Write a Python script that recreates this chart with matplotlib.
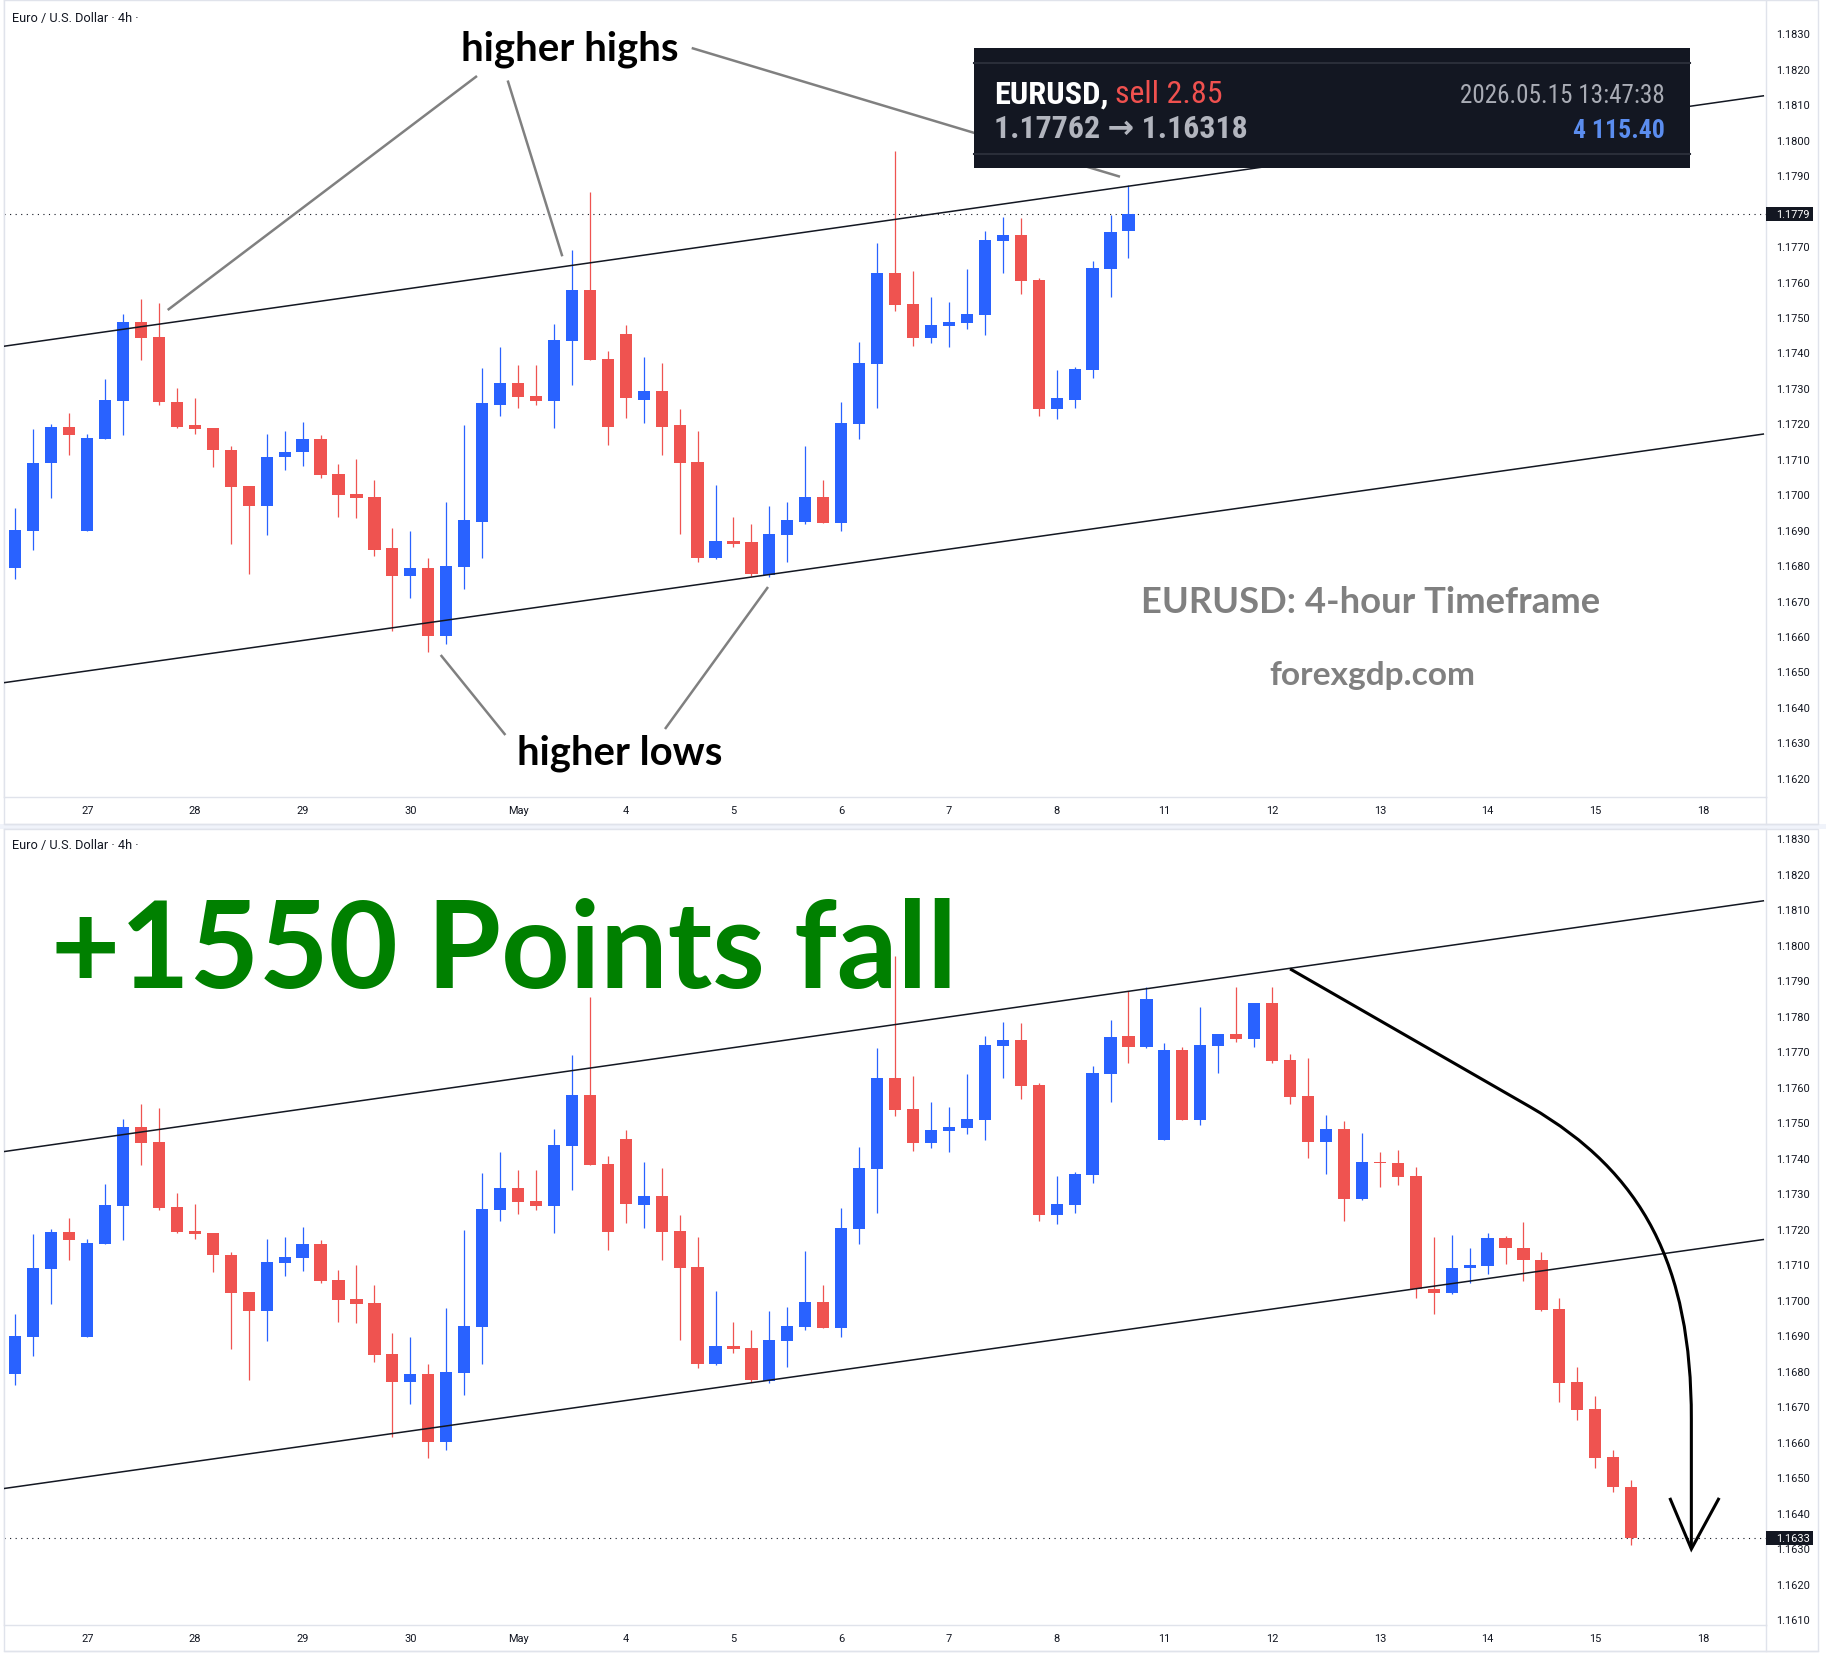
import numpy as np
import matplotlib
matplotlib.use("Agg")
import matplotlib.pyplot as plt
from matplotlib import font_manager, transforms
from matplotlib.patches import Rectangle, PathPatch
from matplotlib.path import Path
from matplotlib.lines import Line2D
from matplotlib.ticker import MultipleLocator, FormatStrFormatter

# ---------------- data (EURUSD 4h candles) ----------------
opens = [1.16791, 1.16895, 1.17087, 1.17191, 1.16895, 1.17157, 1.17264, 1.17487, 1.17444, 1.17261,
         1.17194, 1.17188, 1.17126, 1.17022, 1.16968, 1.17104, 1.17118, 1.17157, 1.17056, 1.17002,
         1.16991, 1.16847, 1.16768, 1.16791, 1.16600, 1.16794, 1.16923, 1.17253, 1.17315, 1.17278,
         1.17264, 1.17433, 1.17577, 1.17382, 1.17453, 1.17267, 1.17292, 1.17194, 1.17092, 1.16819,
         1.16869, 1.16864, 1.16771, 1.16884, 1.16923, 1.16993, 1.16920, 1.17199, 1.17368, 1.17625,
         1.17537, 1.17442, 1.17475, 1.17484, 1.17506, 1.17715, 1.17732, 1.17605, 1.17239, 1.17267,
         1.17351, 1.17636, 1.17743, 1.17713, 1.17451, 1.17703, 1.17507, 1.17716, 1.17748, 1.17735,
         1.17836, 1.17675, 1.17574, 1.17445, 1.17481, 1.17285, 1.17387, 1.17385, 1.17348, 1.17030,
         1.17020, 1.17089, 1.17096, 1.17174, 1.17147, 1.17113, 1.16973, 1.16768, 1.16691, 1.16556,
         1.16474]
highs = [1.16960, 1.17185, 1.17199, 1.17230, 1.17170, 1.17326, 1.17509, 1.17551, 1.17540, 1.17301,
         1.17271, 1.17188, 1.17135, 1.17022, 1.17171, 1.17177, 1.17205, 1.17168, 1.17084, 1.17098,
         1.17041, 1.16906, 1.16895, 1.16819, 1.16977, 1.17196, 1.17357, 1.17416, 1.17365, 1.17365,
         1.17481, 1.17689, 1.17853, 1.17405, 1.17478, 1.17388, 1.17371, 1.17239, 1.17177, 1.17025,
         1.16937, 1.16915, 1.16968, 1.16979, 1.17137, 1.17041, 1.17259, 1.17430, 1.17709, 1.17968,
         1.17630, 1.17557, 1.17543, 1.17636, 1.17743, 1.17782, 1.17780, 1.17610, 1.17349, 1.17360,
         1.17658, 1.17788, 1.17871, 1.17882, 1.17722, 1.17712, 1.17825, 1.17748, 1.17881, 1.17836,
         1.17881, 1.17692, 1.17680, 1.17520, 1.17504, 1.17469, 1.17416, 1.17422, 1.17373, 1.17176,
         1.17182, 1.17146, 1.17188, 1.17180, 1.17219, 1.17134, 1.17004, 1.16810, 1.16729, 1.16578,
         1.16491]
lows = [1.16760, 1.16842, 1.16988, 1.17112, 1.16895, 1.17157, 1.17168, 1.17380, 1.17253, 1.17188,
        1.17171, 1.17078, 1.16861, 1.16774, 1.16884, 1.17067, 1.17081, 1.17047, 1.16937, 1.16934,
        1.16825, 1.16614, 1.16706, 1.16554, 1.16577, 1.16732, 1.16819, 1.17222, 1.17242, 1.17253,
        1.17188, 1.17309, 1.17380, 1.17140, 1.17216, 1.17202, 1.17112, 1.16887, 1.16808, 1.16816,
        1.16850, 1.16768, 1.16766, 1.16810, 1.16915, 1.16920, 1.16895, 1.17157, 1.17244, 1.17518,
        1.17419, 1.17427, 1.17416, 1.17467, 1.17450, 1.17625, 1.17565, 1.17222, 1.17213, 1.17244,
        1.17329, 1.17557, 1.17667, 1.17709, 1.17451, 1.17507, 1.17493, 1.17639, 1.17727, 1.17713,
        1.17667, 1.17552, 1.17400, 1.17353, 1.17221, 1.17280, 1.17318, 1.17324, 1.17005, 1.16959,
        1.17015, 1.17047, 1.17073, 1.17100, 1.17054, 1.16968, 1.16712, 1.16660, 1.16526, 1.16459,
        1.16308]
closes = [1.16898, 1.17089, 1.17191, 1.17168, 1.17159, 1.17267, 1.17487, 1.17442, 1.17259, 1.17191,
          1.17185, 1.17125, 1.17019, 1.16968, 1.17106, 1.17120, 1.17157, 1.17053, 1.16999, 1.16988,
          1.16844, 1.16768, 1.16791, 1.16600, 1.16797, 1.16926, 1.17256, 1.17315, 1.17275, 1.17264,
          1.17436, 1.17577, 1.17380, 1.17191, 1.17270, 1.17292, 1.17191, 1.17089, 1.16819, 1.16869,
          1.16861, 1.16774, 1.16887, 1.16926, 1.16993, 1.16920, 1.17202, 1.17371, 1.17625, 1.17535,
          1.17442, 1.17478, 1.17487, 1.17509, 1.17718, 1.17732, 1.17602, 1.17239, 1.17270, 1.17354,
          1.17639, 1.17740, 1.17713, 1.17846, 1.17703, 1.17507, 1.17717, 1.17748, 1.17735, 1.17836,
          1.17672, 1.17571, 1.17445, 1.17481, 1.17285, 1.17387, 1.17384, 1.17346, 1.17029, 1.17020,
          1.17089, 1.17097, 1.17174, 1.17147, 1.17112, 1.16972, 1.16766, 1.16690, 1.16555, 1.16473,
          1.16330]

top_snapshot_count = 63          # candles visible in the upper (earlier) snapshot
top_snapshot_close = 1.17790     # last candle still forming in the upper snapshot

day_ticks = [4, 10, 16, 22, 28, 34, 40, 46, 52, 58, 64, 70, 76, 82, 88, 94]
day_labels = ['27', '28', '29', '30', 'May', '4', '5', '6', '7', '8',
              '11', '12', '13', '14', '15', '18']

upper_channel = [(-0.69, 1.17417), (97.4, 1.18124)]
lower_channel = [(-0.69, 1.16468), (97.4, 1.17170)]

trade_symbol = 'EURUSD,'
trade_side = 'sell 2.85'
trade_time = '2026.05.15 13:47:38'
trade_prices = '1.17762 \u2192 1.16318'
trade_profit = '4 115.40'

# ---------------- setup ----------------
W, H, DPI = 1826, 1658, 100
avail = {f.name for f in font_manager.fontManager.ttflist}
def pick(*names):
    return next((n for n in names if n in avail), 'DejaVu Sans')
ANN = pick('Lato', 'Open Sans', 'Noto Sans')
UI = pick('Roboto', 'Noto Sans')
COND = pick('Roboto Condensed', 'Liberation Sans Narrow', UI)
plt.rcParams['font.family'] = [UI, 'DejaVu Sans']

BLUE = '#2962ff'
RED = '#ef5350'
INK = '#131722'
BORDER = '#e0e3eb'

fig = plt.figure(figsize=(W / DPI, H / DPI), dpi=DPI)
fig.patch.set_facecolor('white')

def fx(px): return px / W
def fy(py): return 1 - py / H
def rect(x0, y0, x1, y1): return [fx(x0), fy(y1), fx(x1) - fx(x0), fy(y0) - fy(y1)]

XLO, XHI = -0.63, 97.48
PLOT_L, PLOT_R = 4, 1765.5

def make_panel(y0, y1, ylo, yhi):
    ax = fig.add_axes(rect(PLOT_L, y0, PLOT_R, y1))
    ax.set_facecolor('white')
    ax.set_xlim(XLO, XHI)
    ax.set_ylim(ylo, yhi)
    ax.yaxis.tick_right()
    ax.yaxis.set_major_locator(MultipleLocator(0.001))
    ax.yaxis.set_major_formatter(FormatStrFormatter('%.4f'))
    ax.tick_params(axis='y', length=0, pad=7.5, labelsize=7.9, labelcolor=INK)
    ax.set_xticks(day_ticks)
    ax.set_xticklabels(day_labels)
    ax.tick_params(axis='x', length=0, pad=5.5, labelsize=7.9, labelcolor=INK)
    for s in ax.spines.values():
        s.set_color(BORDER)
        s.set_linewidth(1)
    return ax

def draw_candles(ax, o, h, l, c):
    o, h, l, c = map(np.asarray, (o, h, l, c))
    x = np.arange(len(o))
    col = np.where(c >= o, BLUE, RED)
    ax.vlines(x, l, h, colors=col, linewidth=0.9, zorder=2)
    body = np.maximum(np.abs(c - o), 0.00003)
    ax.bar(x, body, bottom=np.minimum(o, c), width=0.68, color=col, linewidth=0, zorder=3)

def draw_channel(ax):
    for p, q in (upper_channel, lower_channel):
        ax.plot([p[0], q[0]], [p[1], q[1]], color=INK, lw=1.1, zorder=4, solid_capstyle='butt')

def price_tag(ax, price):
    trans = transforms.blended_transform_factory(ax.transAxes, ax.transData)
    axw = PLOT_R - PLOT_L
    half = 7 / 35.5 * 0.001
    x0 = (1766 - PLOT_L) / axw
    x1 = (1813 - PLOT_L) / axw
    ax.axhline(price, color=INK, lw=0.8, ls=(0, (1, 4)), zorder=1)
    ax.add_patch(Rectangle((x0, price - half), x1 - x0, 2 * half, transform=trans,
                           facecolor=INK, edgecolor='none', clip_on=False, zorder=10))
    ax.text((1776 - PLOT_L) / axw, price, f'{price:.4f}', transform=trans, color='white',
            fontsize=7.9, va='center', ha='left', zorder=11, clip_on=False)

# panel frames and separator band
fig.add_artist(Rectangle((fx(0), fy(830)), 1, (830 - 824.5) / H, transform=fig.transFigure,
                         facecolor='#f0f3fa', edgecolor='none', zorder=-1))
for (y0, y1) in ((1, 824.5), (830, 1652)):
    fig.add_artist(Rectangle((fx(3.5), fy(y1)), fx(1818) - fx(3.5), (y1 - y0) / H,
                             transform=fig.transFigure, facecolor='none', edgecolor=BORDER,
                             lw=1, zorder=-0.5))

# top panel (snapshot)
ax_top = make_panel(1, 798, 1.16146, 1.18394)
n = top_snapshot_count
top_close = list(closes[:n - 1]) + [top_snapshot_close]
draw_candles(ax_top, opens[:n], highs[:n], lows[:n], top_close)
draw_channel(ax_top)
price_tag(ax_top, top_snapshot_close)

# bottom panel (result)
ax_bot = make_panel(830, 1626, 1.16084, 1.18326)
draw_candles(ax_bot, opens, highs, lows, closes)
draw_channel(ax_bot)
price_tag(ax_bot, closes[-1])

# time-axis strip borders
for (ys, ye) in ((798, 824.5), (1626, 1652)):
    fig.add_artist(Line2D([fx(1818), fx(3.5)], [fy(ye), fy(ye)], transform=fig.transFigure,
                          color=BORDER, lw=1))
    fig.add_artist(Line2D([fx(PLOT_R), fx(PLOT_R)], [fy(ys), fy(ye)], transform=fig.transFigure,
                          color=BORDER, lw=1))

# headers
renderer = fig.canvas.get_renderer()
def fit(t, target):
    w = t.get_window_extent(renderer).width
    t.set_fontsize(t.get_fontsize() * target / w)
    return t

for yy in (18.6, 845.4):
    fit(fig.text(fx(11.6), fy(yy), 'Euro / U.S. Dollar \u00b7 4h \u00b7', color=INK,
                 fontsize=7.6, va='center', ha='left'), 127)

# ---------------- annotations: top ----------------
ann_lines = [((477, 77), (167.7, 311)), ((507.7, 81.5), (562.3, 257.3)),
             ((691.7, 49), (1120, 177.7)), ((505.4, 736), (440.7, 656)),
             ((665, 730), (768, 588))]
for (a, b) in ann_lines:
    fig.add_artist(Line2D([fx(a[0]), fx(b[0])], [fy(a[1]), fy(b[1])], transform=fig.transFigure,
                          color='#808080', lw=1.8, zorder=5, solid_capstyle='butt'))

fit(fig.text(fx(461), fy(60), 'higher highs', family=ANN, fontweight='bold', color='black',
             fontsize=28, va='baseline', ha='left', zorder=6), 217)
fit(fig.text(fx(517), fy(765), 'higher lows', family=ANN, fontweight='bold', color='black',
             fontsize=28, va='baseline', ha='left', zorder=6), 205)
fit(fig.text(fx(1141), fy(613.5), 'EURUSD: 4-hour Timeframe', family=ANN, fontweight='bold',
             color='#808080', fontsize=26, va='baseline', ha='left', zorder=6), 459)
fit(fig.text(fx(1269), fy(685), 'forexgdp.com', family=ANN, fontweight='bold',
             color='#808080', fontsize=24, va='baseline', ha='left', zorder=6), 206)

# trade box
fig.add_artist(Rectangle((fx(973.8), fy(168.5)), fx(1690) - fx(973.8), (168.5 - 49.3) / H,
                         transform=fig.transFigure, facecolor='#131722', edgecolor='none', zorder=6))
for yy in (64, 155):
    fig.add_artist(Line2D([fx(974), fx(1690)], [fy(yy), fy(yy)], transform=fig.transFigure,
                          color='#2a2e39', lw=1.5, zorder=6.5))
fam = [COND, 'DejaVu Sans']
fit(fig.text(fx(994), fy(103.3), trade_symbol, family=fam, color='white', fontweight='bold',
             fontsize=21, va='baseline', ha='left', zorder=7), 114)
fit(fig.text(fx(1114.7), fy(103.3), trade_side, family=fam, color='#f0514f', fontsize=21,
             va='baseline', ha='left', zorder=7), 107)
fit(fig.text(fx(1664.4), fy(103.3), trade_time, family=fam, color='#a9acb5', fontsize=17,
             va='baseline', ha='right', zorder=7), 204)
fit(fig.text(fx(994), fy(138.3), trade_prices, family=fam, color='#b2b5be', fontweight='bold',
             fontsize=21, va='baseline', ha='left', zorder=7), 253)
fit(fig.text(fx(1664.4), fy(138.3), trade_profit, family=fam, color='#5b8def', fontweight='bold',
             fontsize=18, va='baseline', ha='right', zorder=7), 92)

# ---------------- annotations: bottom ----------------
fit(fig.text(fx(51), fy(988.3), '+1550 Points fall', family=ANN, fontweight='bold',
             color='#008000', fontsize=86, va='baseline', ha='left', zorder=6), 906)

# curved "fall" arrow: straight run, rounded corner, vertical drop
curve = Path([(71.00, 1.17932), (84.38, 1.17543),
              (90.66, 1.17358), (93.35, 1.17098), (93.35, 1.16664),
              (93.35, 1.16300)],
             [Path.MOVETO, Path.LINETO, Path.CURVE4, Path.CURVE4, Path.CURVE4, Path.LINETO])
ax_bot.add_patch(PathPatch(curve, facecolor='none', edgecolor='black', lw=2.2, zorder=8,
                           clip_on=False, capstyle='butt', joinstyle='round'))
ax_bot.plot([92.15, 93.35, 94.90], [1.16442, 1.16298, 1.16442], color='black', lw=2.2,
            zorder=8, solid_joinstyle='miter', solid_capstyle='butt')

fig.savefig('out.png', dpi=DPI)
